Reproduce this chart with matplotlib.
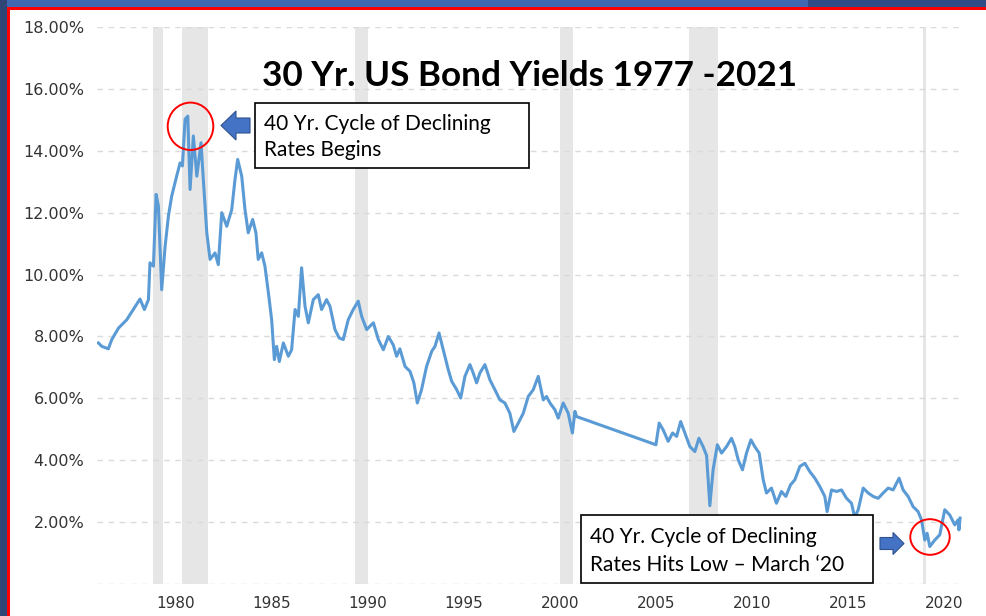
import matplotlib
matplotlib.use("Agg")
import matplotlib.pyplot as plt
from matplotlib.patches import Rectangle, Ellipse, FancyArrow
from matplotlib.transforms import Affine2D

# ── Data (decimal years, 30-yr yield %) ───────────────────────────────────────
years_a = [
    1977.15, 1977.33, 1977.67, 1977.85, 1978.20, 1978.63, 1978.97, 1979.32, 1979.55, 1979.76,
    1979.84, 1980.02, 1980.16, 1980.28, 1980.45, 1980.63, 1980.80, 1980.97, 1981.23, 1981.41,
    1981.53, 1981.67, 1981.81, 1981.93, 1982.10, 1982.28, 1982.50, 1982.62, 1982.80, 1982.97,
    1983.23, 1983.40, 1983.58, 1983.84, 1984.10, 1984.27, 1984.41, 1984.62, 1984.79, 1984.96,
    1985.19, 1985.36, 1985.48, 1985.66, 1985.83, 1986.01, 1986.18, 1986.32, 1986.44, 1986.58,
    1986.79, 1987.05, 1987.22, 1987.40, 1987.57, 1987.74, 1987.92, 1988.09, 1988.35, 1988.61,
    1988.78, 1989.04, 1989.22, 1989.48, 1989.70, 1989.91, 1990.17, 1990.43, 1990.69, 1990.87,
    1991.13, 1991.30, 1991.48, 1991.74, 1992.00, 1992.26, 1992.52, 1992.69, 1992.86, 1993.13,
    1993.39, 1993.59, 1993.77, 1993.99, 1994.25, 1994.52, 1994.69, 1994.90, 1995.12, 1995.38,
    1995.56, 1995.82, 1996.03, 1996.25, 1996.51, 1996.68, 1996.86, 1997.03, 1997.29, 1997.55,
    1997.81, 1998.07, 1998.33, 1998.59, 1998.80, 1999.03, 1999.29, 1999.55, 1999.81, 2000.07,
    2000.33, 2000.50, 2000.68, 2000.94, 2001.11, 2001.37, 2001.63, 2001.85, 2001.98, 2002.07,
]
yields_a = [
    7.79, 7.68, 7.60, 7.90, 8.27, 8.54, 8.87, 9.21, 8.87, 9.19,
    10.38, 10.27, 12.59, 12.21, 9.51, 10.92, 11.89, 12.53, 13.18, 13.61,
    13.51, 15.02, 15.12, 12.75, 14.48, 13.18, 14.26, 13.07, 11.35, 10.49,
    10.70, 10.32, 12.00, 11.56, 12.10, 13.07, 13.72, 13.18, 12.10, 11.35,
    11.78, 11.35, 10.49, 10.70, 10.27, 9.41, 8.54, 7.25, 7.68, 7.19,
    7.79, 7.36, 7.57, 8.87, 8.65, 10.22, 8.97, 8.44, 9.19, 9.35,
    8.87, 9.19, 8.97, 8.22, 7.95, 7.90, 8.54, 8.87, 9.14, 8.65,
    8.22, 8.33, 8.44, 7.90, 7.57, 8.00, 7.72, 7.36, 7.60, 7.03,
    6.87, 6.50, 5.85, 6.28, 7.03, 7.52, 7.68, 8.11, 7.57, 6.93,
    6.55, 6.28, 6.01, 6.71, 7.09, 6.82, 6.50, 6.82, 7.09, 6.60,
    6.28, 5.95, 5.85, 5.52, 4.93, 5.20, 5.52, 6.06, 6.28, 6.71,
    5.95, 6.06, 5.85, 5.63, 5.36, 5.85, 5.52, 4.88, 5.58, 5.41,
]
# 30-yr issuance gap 2002-2006 is bridged by a straight segment
years_b = [
    2006.20, 2006.37, 2006.58, 2006.84, 2007.07, 2007.28, 2007.49, 2007.71, 2007.97, 2008.23,
    2008.44, 2008.66, 2008.84, 2009.01, 2009.18, 2009.40, 2009.62, 2009.88, 2010.14, 2010.31,
    2010.49, 2010.71, 2010.92, 2011.15, 2011.35, 2011.58, 2011.79, 2011.96, 2012.22, 2012.48,
    2012.74, 2012.97, 2013.21, 2013.44, 2013.70, 2013.96, 2014.22, 2014.48, 2014.74, 2015.00,
    2015.12, 2015.35, 2015.61, 2015.87, 2016.13, 2016.39, 2016.56, 2016.74, 2017.00, 2017.26,
    2017.52, 2017.78, 2018.04, 2018.30, 2018.56, 2018.87, 2019.08, 2019.34, 2019.60, 2019.86,
    2020.04, 2020.21, 2020.33, 2020.47, 2020.73, 2020.99, 2021.25, 2021.51, 2021.77, 2021.94,
    2021.99, 2022.05,
]
yields_b = [
    4.50, 5.20, 4.98, 4.61, 4.88, 4.77, 5.25, 4.88, 4.44, 4.28,
    4.71, 4.44, 4.15, 2.53, 3.69, 4.50, 4.23, 4.44, 4.71, 4.44,
    4.01, 3.69, 4.23, 4.66, 4.44, 4.23, 3.37, 2.94, 3.10, 2.61,
    2.99, 2.83, 3.20, 3.37, 3.80, 3.90, 3.63, 3.42, 3.15, 2.83,
    2.34, 3.04, 2.99, 3.04, 2.77, 2.61, 2.15, 2.40, 3.10, 2.94,
    2.83, 2.77, 2.94, 3.10, 3.04, 3.42, 3.04, 2.83, 2.50, 2.34,
    2.07, 1.42, 1.64, 1.21, 1.42, 1.59, 2.40, 2.23, 1.91, 2.07,
    1.75, 2.13,
]

recession_start = [1980.0, 1981.5, 1990.5, 2001.2, 2007.92, 2020.1]
recession_end = [1980.5, 1982.87, 1991.2, 2001.87, 2009.45, 2020.28]

ytick_vals = [0, 2, 4, 6, 8, 10, 12, 14, 16, 18]
xtick_years = [1980, 1985, 1990, 1995, 2000, 2005, 2010, 2015, 2020]

W, H = 986, 616

fig = plt.figure(figsize=(W / 100, H / 100), dpi=100)
fig.patch.set_facecolor("white")

# pixel (top-left origin) -> figure transform for decorations
px = Affine2D().scale(1 / W, -1 / H).translate(0, 1) + fig.transFigure

# ── Slide frame ───────────────────────────────────────────────────────────────
fig.add_artist(Rectangle((0, 0), 810, 7, transform=px, color="#4068b0", lw=0))
fig.add_artist(Rectangle((808, 0), W - 808, 7, transform=px, color="#2f4c86", lw=0))
fig.add_artist(Rectangle((0, 0), 7, H, transform=px, color="#2e4575", lw=0))
fig.add_artist(Rectangle((7, 7), W - 7, 3, transform=px, color="#ff0000", lw=0))
fig.add_artist(Rectangle((7, 7), 3, H - 7, transform=px, color="#ff0000", lw=0))

# ── Chart ─────────────────────────────────────────────────────────────────────
ax = fig.add_axes([97 / W, 32 / H, 866 / W, 557 / H])
ax.set_facecolor("none")
ax.set_xlim(1977.08, 2022.2)
ax.set_ylim(0, 18)

for s, e in zip(recession_start, recession_end):
    ax.axvspan(s, e, color="#e6e6e6", lw=0, zorder=1)

for v in ytick_vals:
    ax.axhline(v, color="#dadada", lw=1.0, ls=(0, (4, 4)), zorder=2)

ax.plot(years_a + years_b, yields_a + yields_b, color="#5b9bd5", lw=2.2, zorder=3,
        solid_joinstyle="round")

for sp in ax.spines.values():
    sp.set_visible(False)

ax.set_yticks(ytick_vals[1:])
ax.set_yticklabels([f"{v:.2f}%" for v in ytick_vals[1:]])
# the source chart's year labels sit ~1.2 yr right of Jan 1
ax.set_xticks([y + 1.2 for y in xtick_years])
ax.set_xticklabels([str(y) for y in xtick_years])
ax.tick_params(axis="y", length=0, pad=9, labelsize=11.5, labelcolor="#333333")
ax.tick_params(axis="x", length=0, pad=9, labelsize=11, labelcolor="#333333")

# ── Title & annotations ───────────────────────────────────────────────────────
fig.text(530, 86, "30 Yr. US Bond Yields 1977 -2021", transform=px, ha="center",
         va="baseline", fontsize=25.3, fontweight="bold", family="Lato", color="black")

fig.add_artist(Rectangle((255, 103), 274, 65, transform=px, facecolor="white",
                         edgecolor="black", lw=1.2))
fig.text(264, 130, "40 Yr. Cycle of Declining", transform=px, va="baseline",
         fontsize=15, family="Lato", color="black")
fig.text(264, 156.5, "Rates Begins", transform=px, va="baseline",
         fontsize=15, family="Lato", color="black")

fig.add_artist(Rectangle((581, 515), 292, 68, transform=px, facecolor="white",
                         edgecolor="black", lw=1.2))
fig.text(590, 543, "40 Yr. Cycle of Declining", transform=px, va="baseline",
         fontsize=15, family="Lato", color="black")
fig.text(590, 571, "Rates Hits Low \u2013 March \u201820", transform=px, va="baseline",
         fontsize=15, family="Lato", color="black")

fig.add_artist(FancyArrow(250, 125.5, -29, 0, width=15, head_width=29, head_length=15,
                          length_includes_head=True, transform=px,
                          facecolor="#4472c4", edgecolor="#2f528f", lw=0.8))
fig.add_artist(FancyArrow(880, 543.5, 24, 0, width=12, head_width=22, head_length=11,
                          length_includes_head=True, transform=px,
                          facecolor="#4472c4", edgecolor="#2f528f", lw=0.8))

fig.add_artist(Ellipse((190.5, 126.3), 45.6, 47.4, transform=px, fill=False,
                       edgecolor="#ff0000", lw=1.4))
fig.add_artist(Ellipse((930, 537), 39.4, 35.6, transform=px, fill=False,
                       edgecolor="#ff0000", lw=1.4))

fig.savefig("out.png", dpi=100, facecolor="white")
plt.close(fig)
